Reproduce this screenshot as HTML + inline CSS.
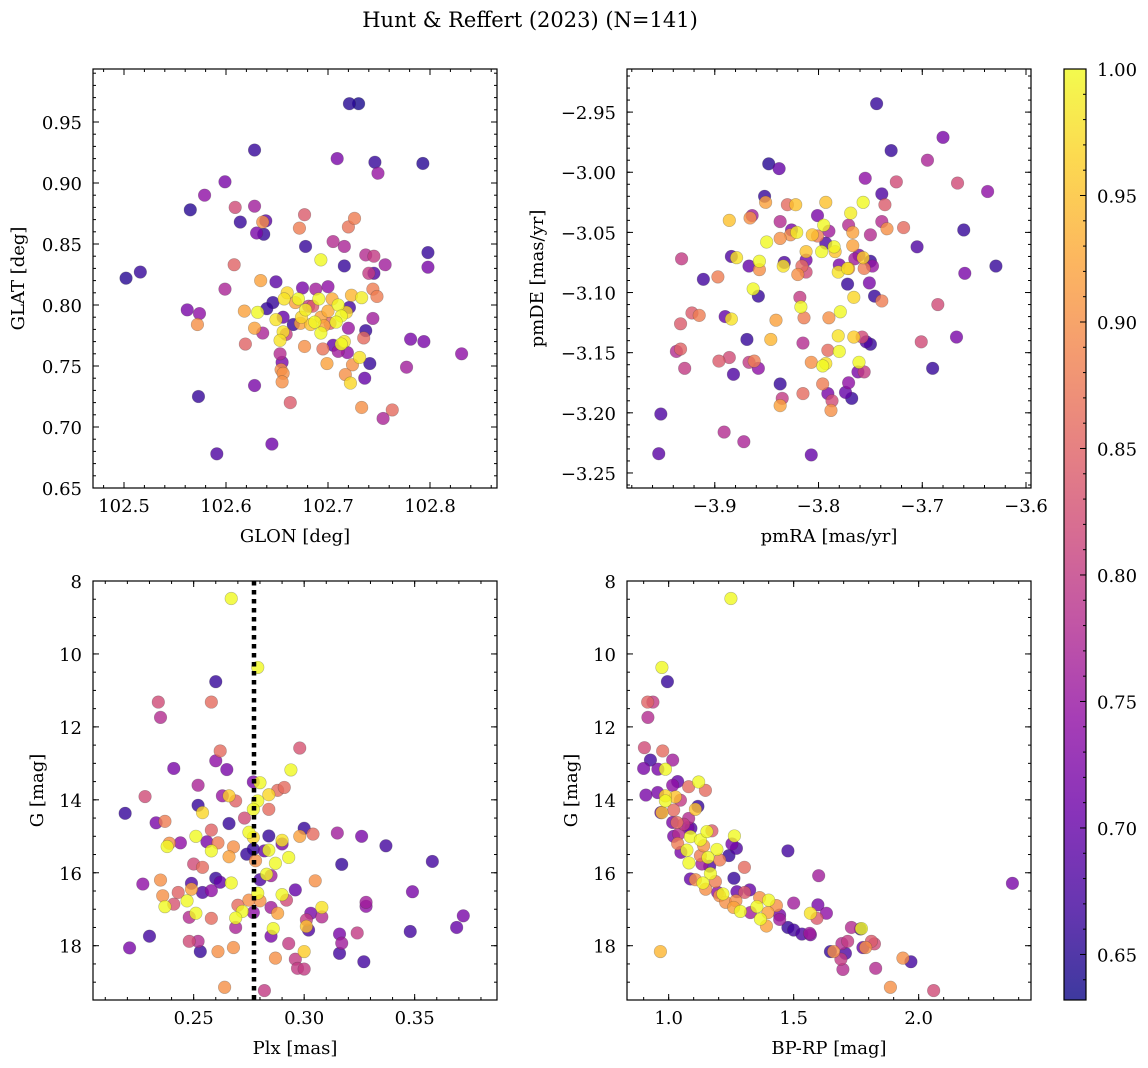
<!DOCTYPE html>
<html><head><meta charset="utf-8"><style>
html,body{margin:0;padding:0;background:#fff;}
svg{display:block;font-family:"DejaVu Serif","Liberation Serif",serif;}
</style></head><body>
<svg id="fig" width="1148" height="1068" viewBox="0 0 1148 1068" xmlns="http://www.w3.org/2000/svg">
<text x="530" y="27" text-anchor="middle" font-size="21">Hunt &amp; Reffert (2023) (N=141)</text>
<g id="g1"></g>
<g id="g2"></g>
<g id="g3"></g>
<g id="g4"></g>
<g id="gcb"></g>
</svg>
<script>
// ---- Panel 1: GLON / GLAT ----
const glon=[102.721,102.730,102.628,102.709,102.746,102.793,102.749,102.599,102.579,102.565,102.609,102.628,102.677,102.726,102.614,102.639,102.636,102.672,102.720,102.630,102.637,102.705,102.716,102.678,102.693,102.737,102.745,102.756,102.798,102.798,102.716,102.608,102.502,102.516,102.745,102.740,102.634,102.649,102.599,102.675,102.688,102.700,102.744,102.748,102.723,102.733,102.660,102.657,102.671,102.691,102.704,102.646,102.668,102.710,102.721,102.685,102.640,102.562,102.574,102.618,102.631,102.678,102.700,102.713,102.718,102.656,102.649,102.674,102.693,102.666,102.673,102.687,102.696,102.708,102.744,102.572,102.628,102.656,102.636,102.659,102.693,102.720,102.737,102.735,102.781,102.794,102.831,102.653,102.716,102.713,102.619,102.677,102.695,102.705,102.710,102.719,102.653,102.655,102.731,102.724,102.699,102.741,102.777,102.654,102.656,102.717,102.736,102.655,102.722,102.628,102.573,102.663,102.733,102.763,102.754,102.645,102.591,102.683,102.702,102.681];
const glat=[0.965,0.965,0.927,0.920,0.917,0.916,0.908,0.901,0.890,0.878,0.880,0.881,0.874,0.871,0.868,0.869,0.868,0.863,0.864,0.859,0.858,0.852,0.848,0.848,0.837,0.841,0.840,0.833,0.843,0.831,0.832,0.833,0.822,0.827,0.826,0.826,0.820,0.819,0.813,0.814,0.813,0.815,0.813,0.807,0.808,0.806,0.810,0.805,0.805,0.805,0.805,0.802,0.802,0.800,0.798,0.799,0.797,0.796,0.793,0.795,0.794,0.796,0.795,0.791,0.794,0.790,0.788,0.790,0.790,0.784,0.785,0.786,0.783,0.786,0.789,0.784,0.781,0.778,0.777,0.776,0.777,0.781,0.779,0.773,0.772,0.770,0.760,0.771,0.770,0.768,0.768,0.766,0.764,0.767,0.762,0.761,0.760,0.753,0.757,0.751,0.752,0.752,0.749,0.747,0.744,0.743,0.740,0.737,0.736,0.734,0.725,0.720,0.716,0.714,0.707,0.686,0.678,0.784,0.785,0.799];
const prob1=[0.65,0.64,0.66,0.72,0.66,0.65,0.75,0.72,0.74,0.65,0.82,0.76,0.84,0.88,0.66,0.69,0.9,0.88,0.87,0.72,0.66,0.78,0.77,0.66,1.0,0.78,0.8,0.76,0.66,0.72,0.66,0.85,0.65,0.66,0.68,0.8,0.92,0.69,0.77,0.72,0.76,0.74,0.88,0.88,0.94,0.99,0.97,0.98,1.0,1.0,0.93,0.66,0.92,1.0,0.67,0.84,0.66,0.72,0.74,0.92,1.0,0.99,0.93,1.0,0.97,0.7,0.98,0.97,0.92,0.66,0.92,1.0,0.92,1.0,0.76,0.9,0.92,0.98,0.77,0.8,1.0,0.75,0.66,0.86,0.72,0.72,0.74,0.98,0.98,1.0,0.85,0.9,0.87,0.7,0.76,0.74,0.78,0.72,0.98,0.9,0.92,0.66,0.76,0.9,0.9,0.9,0.7,0.9,0.97,0.72,0.66,0.84,0.9,0.86,0.77,0.71,0.68,0.95,0.85,0.8];
// ---- Panel 2: pmRA / pmDE ----
const pmra=[-3.744,-3.680,-3.730,-3.695,-3.848,-3.838,-3.755,-3.725,-3.666,-3.637,-3.739,-3.852,-3.851,-3.830,-3.822,-3.793,-3.757,-3.736,-3.886,-3.864,-3.866,-3.837,-3.801,-3.769,-3.795,-3.771,-3.739,-3.734,-3.718,-3.660,-3.826,-3.827,-3.821,-3.806,-3.801,-3.790,-3.767,-3.750,-3.850,-3.837,-3.793,-3.785,-3.784,-3.797,-3.812,-3.767,-3.705,-3.884,-3.879,-3.932,-3.867,-3.857,-3.857,-3.833,-3.834,-3.812,-3.816,-3.812,-3.820,-3.780,-3.781,-3.772,-3.761,-3.765,-3.757,-3.750,-3.748,-3.756,-3.771,-3.659,-3.629,-3.911,-3.897,-3.772,-3.751,-3.863,-3.858,-3.818,-3.766,-3.746,-3.739,-3.685,-3.817,-3.779,-3.922,-3.915,-3.933,-3.890,-3.884,-3.841,-3.814,-3.790,-3.781,-3.766,-3.758,-3.754,-3.750,-3.846,-3.869,-3.815,-3.791,-3.780,-3.701,-3.667,-3.937,-3.933,-3.929,-3.896,-3.886,-3.867,-3.862,-3.858,-3.882,-3.807,-3.796,-3.793,-3.761,-3.762,-3.756,-3.690,-3.837,-3.796,-3.771,-3.815,-3.791,-3.774,-3.768,-3.787,-3.835,-3.837,-3.788,-3.952,-3.891,-3.872,-3.954,-3.807];
const pmde=[-2.943,-2.971,-2.982,-2.990,-2.993,-2.997,-3.005,-3.008,-3.009,-3.016,-3.018,-3.020,-3.025,-3.027,-3.027,-3.025,-3.025,-3.027,-3.040,-3.036,-3.038,-3.041,-3.036,-3.034,-3.044,-3.044,-3.041,-3.047,-3.046,-3.048,-3.048,-3.052,-3.050,-3.052,-3.053,-3.049,-3.050,-3.052,-3.058,-3.055,-3.059,-3.062,-3.066,-3.066,-3.066,-3.061,-3.062,-3.070,-3.071,-3.072,-3.078,-3.081,-3.074,-3.075,-3.078,-3.073,-3.078,-3.083,-3.085,-3.077,-3.083,-3.080,-3.069,-3.072,-3.071,-3.074,-3.078,-3.080,-3.080,-3.084,-3.078,-3.089,-3.087,-3.093,-3.092,-3.097,-3.103,-3.104,-3.104,-3.103,-3.107,-3.110,-3.112,-3.116,-3.117,-3.119,-3.126,-3.120,-3.122,-3.123,-3.121,-3.121,-3.136,-3.137,-3.137,-3.141,-3.143,-3.139,-3.139,-3.142,-3.148,-3.149,-3.141,-3.137,-3.149,-3.147,-3.163,-3.157,-3.154,-3.158,-3.157,-3.163,-3.168,-3.158,-3.161,-3.159,-3.158,-3.166,-3.166,-3.163,-3.176,-3.176,-3.175,-3.184,-3.184,-3.183,-3.188,-3.190,-3.188,-3.194,-3.198,-3.201,-3.216,-3.224,-3.234,-3.235];
const prob2=[0.66,0.72,0.66,0.77,0.65,0.7,0.74,0.82,0.82,0.74,0.68,0.66,0.92,0.86,0.95,0.95,1.0,0.84,0.95,0.76,0.9,0.78,0.72,0.99,1.0,0.78,0.78,0.9,0.86,0.66,0.72,0.9,0.99,0.95,0.88,0.76,0.92,0.78,1.0,0.9,0.68,1.0,0.95,1.0,0.95,0.92,0.68,0.68,0.98,0.8,0.7,0.9,1.0,0.68,0.98,0.72,0.86,0.82,0.9,0.72,0.98,0.98,0.72,0.76,0.96,0.66,0.75,0.88,0.9,0.72,0.66,0.67,0.88,0.66,0.72,1.0,0.66,0.8,0.97,0.66,0.88,0.82,1.0,1.0,0.84,0.88,0.84,0.7,0.98,0.92,0.88,0.9,0.98,0.96,0.82,0.68,0.66,0.94,0.66,0.78,0.86,1.0,0.82,0.72,0.78,0.85,0.8,0.84,0.82,0.8,0.88,0.74,0.68,0.9,1.0,0.98,1.0,0.72,0.8,0.66,0.66,0.88,0.74,0.86,0.72,0.7,0.66,0.82,0.8,0.92,0.9,0.68,0.78,0.77,0.69,0.7];
// ---- Panel 3: Plx / G ----
const plx=[0.267,0.279,0.260,0.234,0.258,0.235,0.262,0.298,0.260,0.241,0.265,0.294,0.252,0.277,0.280,0.288,0.291,0.228,0.263,0.266,0.269,0.279,0.284,0.252,0.254,0.219,0.277,0.284,0.273,0.233,0.237,0.266,0.300,0.304,0.298,0.315,0.326,0.337,0.358,0.317,0.251,0.258,0.275,0.277,0.284,0.290,0.290,0.244,0.239,0.238,0.256,0.261,0.268,0.258,0.266,0.274,0.277,0.282,0.284,0.278,0.293,0.287,0.250,0.254,0.283,0.285,0.280,0.305,0.235,0.227,0.260,0.262,0.267,0.249,0.249,0.254,0.258,0.243,0.236,0.247,0.241,0.237,0.279,0.280,0.275,0.270,0.272,0.277,0.290,0.292,0.296,0.308,0.308,0.303,0.288,0.301,0.301,0.302,0.286,0.285,0.269,0.269,0.258,0.251,0.248,0.230,0.221,0.248,0.252,0.253,0.261,0.268,0.293,0.300,0.287,0.296,0.297,0.300,0.316,0.317,0.324,0.316,0.327,0.328,0.328,0.349,0.348,0.369,0.372,0.264,0.282,0.285];
const gmag3=[8.48,10.37,10.76,11.32,11.32,11.74,12.66,12.58,12.93,13.14,13.17,13.18,13.60,13.51,13.53,13.74,13.66,13.91,13.89,13.89,14.03,14.03,13.86,14.15,14.35,14.37,14.26,14.26,14.50,14.63,14.59,14.65,14.78,14.94,15.00,14.91,15.00,15.26,15.69,15.77,15.00,14.83,14.89,15.03,14.99,15.11,15.21,15.18,15.19,15.28,15.15,15.18,15.29,15.40,15.56,15.49,15.35,15.40,15.38,15.67,15.58,15.74,15.76,15.85,16.04,16.08,16.19,16.22,16.20,16.31,16.15,16.26,16.28,16.29,16.45,16.54,16.49,16.54,16.63,16.77,16.86,16.93,16.56,16.77,16.75,16.89,17.06,17.09,16.60,16.75,16.47,16.95,17.21,17.11,17.11,17.29,17.47,17.57,17.53,17.74,17.24,17.50,17.25,17.11,17.22,17.74,18.06,17.88,17.88,18.16,18.16,18.05,17.94,18.16,18.34,18.37,18.62,18.64,17.68,17.93,17.65,18.21,18.44,16.81,16.92,16.52,17.61,17.50,17.18,19.14,19.23,16.95];
const prob3=[1.0,1.0,0.66,0.82,0.86,0.78,0.86,0.83,0.74,0.72,0.72,1.0,0.77,0.72,1.0,0.86,0.86,0.82,0.75,0.96,0.85,1.0,0.97,0.66,0.97,0.66,1.0,0.86,0.82,0.72,0.88,0.66,0.66,0.86,0.92,0.76,0.72,0.67,0.67,0.66,1.0,0.85,1.0,0.97,0.66,0.98,0.72,0.74,0.9,1.0,0.72,0.88,0.9,1.0,0.92,0.66,0.66,0.7,1.0,0.9,1.0,1.0,0.82,0.86,1.0,0.76,0.68,0.9,0.9,0.74,0.66,0.7,1.0,0.68,0.92,0.68,0.74,0.85,0.9,1.0,0.83,1.0,1.0,0.9,0.9,0.86,1.0,0.74,1.0,0.82,0.7,0.98,0.78,0.72,0.92,0.8,0.95,0.68,1.0,0.72,1.0,0.77,0.86,1.0,0.78,0.67,0.72,0.82,0.78,0.66,0.9,0.9,0.8,0.96,0.9,0.8,0.8,0.8,0.72,0.76,0.8,0.67,0.67,0.76,0.74,0.72,0.67,0.7,0.72,0.9,0.8,0.76];
const plxLine=0.2773;
// ---- Panel 4: BP-RP / G ----
const bprp=[1.249,0.973,0.995,0.916,0.937,0.917,0.903,0.976,0.927,1.016,0.900,0.957,0.987,1.036,1.016,1.080,1.120,1.147,0.909,0.956,0.987,1.027,1.047,0.987,1.117,1.107,0.969,0.973,1.020,1.080,1.016,1.033,1.089,1.020,1.040,1.087,1.127,1.153,1.173,1.263,1.253,1.271,1.036,1.049,1.073,1.140,1.193,1.241,1.127,1.157,1.081,1.133,1.164,1.204,1.303,1.477,1.600,2.375,1.087,1.107,1.167,1.261,1.137,1.148,1.187,1.196,1.217,1.204,1.273,1.324,1.304,1.228,1.269,1.260,1.287,1.327,1.364,1.400,1.353,1.431,1.397,1.367,1.391,1.444,1.444,1.500,1.477,1.500,1.533,1.567,1.564,1.597,1.631,1.567,1.593,1.731,1.767,1.771,1.647,1.660,1.707,1.693,1.716,1.689,1.697,1.777,1.788,1.811,1.823,1.828,1.937,1.969,1.887,2.060,0.967,1.060,1.077];
const gmag4=[8.48,10.37,10.76,11.32,11.32,11.74,12.57,12.66,12.91,12.91,13.14,13.16,13.16,13.50,13.60,13.64,13.51,13.74,13.87,13.80,13.89,13.92,14.01,14.03,14.18,14.26,14.35,14.35,14.28,14.51,14.62,14.62,14.78,15.00,14.94,15.01,15.10,14.87,14.85,14.99,15.21,15.33,15.20,15.44,15.38,15.26,15.36,15.53,15.53,15.58,15.73,15.76,15.82,15.65,15.85,15.40,16.08,16.29,16.17,16.19,16.02,16.15,16.28,16.45,16.24,16.54,16.58,16.63,16.52,16.47,16.54,16.81,16.77,16.95,17.06,17.09,16.68,16.75,16.93,16.90,17.09,17.27,17.46,17.16,17.28,16.83,17.50,17.57,17.68,17.70,17.66,16.88,17.11,17.11,17.25,17.50,17.54,17.53,18.16,18.16,18.21,17.94,17.88,18.37,18.65,18.05,18.05,17.88,17.95,18.62,18.34,18.44,19.14,19.23,18.16,14.67,14.76];
const prob4=[1.0,1.0,0.66,0.85,0.8,0.78,0.82,0.86,0.67,0.76,0.72,0.72,1.0,0.7,0.74,0.86,1.0,0.86,0.72,0.72,0.97,0.95,0.8,1.0,0.66,0.95,0.7,0.95,0.86,0.78,0.72,0.86,0.68,0.72,0.78,1.0,1.0,1.0,0.84,1.0,0.72,0.68,0.88,0.72,1.0,0.9,1.0,0.66,0.88,1.0,1.0,0.76,0.68,0.88,0.86,0.67,0.76,0.72,0.7,0.9,1.0,0.66,1.0,0.9,0.88,0.74,1.0,0.9,0.7,0.7,0.84,0.9,0.9,0.92,1.0,0.76,0.9,1.0,1.0,0.9,0.92,1.0,0.92,0.72,0.76,0.76,0.66,0.67,0.68,0.72,0.76,0.72,0.74,0.98,0.84,0.78,0.66,1.0,0.66,0.9,0.68,0.78,0.8,0.8,0.78,0.7,0.9,0.84,0.82,0.78,0.9,0.67,0.9,0.82,0.94,0.8,0.72];
// ---- Colorbar ticks ----
const cbTicks=[0.65,0.70,0.75,0.80,0.85,0.90,0.95,1.00];
const cbMin=0.632, cbMax=1.0;

const NS="http://www.w3.org/2000/svg";
const FS=18;
const plasma=[[13,8,135],[65,4,157],[106,0,168],[143,13,164],[177,42,144],[204,71,120],[225,100,98],[242,132,75],[252,166,54],[252,206,37],[240,249,33]];
function cmap(v){let t=(v-cbMin)/(cbMax-cbMin);t=Math.max(0,Math.min(1,t))*10;const i=Math.min(9,Math.floor(t)),f=t-i;const a=plasma[i],b=plasma[i+1];return `rgb(${Math.round(a[0]+(b[0]-a[0])*f)},${Math.round(a[1]+(b[1]-a[1])*f)},${Math.round(a[2]+(b[2]-a[2])*f)})`;}
function mk(parent,tag,attrs){const e=document.createElementNS(NS,tag);for(const k in attrs)e.setAttribute(k,attrs[k]);parent.appendChild(e);return e;}
function range(a,b,s){const r=[];for(let v=a;v<=b+s*1e-6;v+=s)r.push(+v.toFixed(6));return r;}

function panel(g,o){
  const sx=v=>o.x0+(v-o.xmin)/(o.xmax-o.xmin)*o.w;
  const sy=v=>o.y0+(o.ytop-v)/(o.ytop-o.ybot)*o.h;
  const idx=o.xs.map((_,i)=>i).sort((a,b)=>o.ps[a]-o.ps[b]);
  const pg=mk(g,'g',{});
  
  
  idx.forEach(i=>{
    const c=mk(pg,'circle',{cx:sx(o.xs[i]),cy:sy(o.ys[i]),r:6.3,fill:cmap(o.ps[i]),'fill-opacity':0.8,stroke:'rgba(60,60,60,0.35)','stroke-width':0.6});
    
    
  });
  if(o.vline!==undefined){
    const l=mk(g,'line',{x1:sx(o.vline),x2:sx(o.vline),y1:o.y0,y2:o.y0+o.h,stroke:'#000','stroke-width':4.5,'stroke-dasharray':'4.5 4.5'});
    
    
  }
  const fr=mk(g,'rect',{x:o.x0,y:o.y0,width:o.w,height:o.h,fill:'none',stroke:'#000','stroke-width':1.2});
  
  
  const tg=mk(g,'g',{stroke:'#000','stroke-width':1});
  const inX=v=>v>=Math.min(o.xmin,o.xmax)-1e-9&&v<=Math.max(o.xmin,o.xmax)+1e-9;
  const inY=v=>v>=Math.min(o.ytop,o.ybot)-1e-9&&v<=Math.max(o.ytop,o.ybot)+1e-9;
  o.xminor.filter(inX).forEach(v=>{const x=sx(v);mk(tg,'line',{x1:x,x2:x,y1:o.y0+o.h,y2:o.y0+o.h-3});mk(tg,'line',{x1:x,x2:x,y1:o.y0,y2:o.y0+3});});
  o.yminor.filter(inY).forEach(v=>{const y=sy(v);mk(tg,'line',{x1:o.x0,x2:o.x0+3,y1:y,y2:y});mk(tg,'line',{x1:o.x0+o.w,x2:o.x0+o.w-3,y1:y,y2:y});});
  o.xticks.forEach((v,k)=>{const x=sx(v);mk(tg,'line',{x1:x,x2:x,y1:o.y0+o.h,y2:o.y0+o.h-6});mk(tg,'line',{x1:x,x2:x,y1:o.y0,y2:o.y0+6});
    const t=mk(g,'text',{x:x,y:o.y0+o.h+24,'text-anchor':'middle','font-size':FS});t.textContent=o.xlabels[k];
    });
  o.yticks.forEach((v,k)=>{const y=sy(v);mk(tg,'line',{x1:o.x0,x2:o.x0+6,y1:y,y2:y});mk(tg,'line',{x1:o.x0+o.w,x2:o.x0+o.w-6,y1:y,y2:y});
    const t=mk(g,'text',{x:o.x0-11,y:y+7,'text-anchor':'end','font-size':FS});t.textContent=o.ylabels[k];
    });
  const xt=mk(g,'text',{x:o.x0+o.w/2,y:o.y0+o.h+54,'text-anchor':'middle','font-size':FS});xt.textContent=o.xtitle;
  
  const yx=o.ytitleX, yc=o.y0+o.h/2;
  const yt=mk(g,'text',{x:yx,y:yc,'text-anchor':'middle','font-size':FS,transform:`rotate(-90 ${yx} ${yc})`});yt.textContent=o.ytitle;
  
}
const m=s=>s.replace('-','\u2212');
panel(document.getElementById('g1'),{x0:93,y0:69,w:404,h:419,xmin:102.5-31/1020,xmax:102.5+373/1020,ytop:0.95+53/1220,ybot:0.65,
  xs:glon,ys:glat,ps:prob1,xticks:[102.5,102.6,102.7,102.8],xlabels:['102.5','102.6','102.7','102.8'],
  yticks:[0.65,0.7,0.75,0.8,0.85,0.9,0.95],ylabels:['0.65','0.70','0.75','0.80','0.85','0.90','0.95'],
  xminor:range(102.46,102.88,0.02),yminor:range(0.65,0.99,0.01),xtitle:'GLON [deg]',ytitle:'GLAT [deg]',ytitleX:24});
panel(document.getElementById('g2'),{x0:627,y0:69,w:404,h:419,xmin:-3.9-88/1040,xmax:-3.6+5/1040,ytop:-2.95+43/1200,ybot:-3.25-15/1200,
  xs:pmra,ys:pmde,ps:prob2,xticks:[-3.9,-3.8,-3.7,-3.6],xlabels:['-3.9','-3.8','-3.7','-3.6'].map(m),
  yticks:[-3.25,-3.2,-3.15,-3.1,-3.05,-3.0,-2.95],ylabels:['-3.25','-3.20','-3.15','-3.10','-3.05','-3.00','-2.95'].map(m),
  xminor:range(-3.98,-3.6,0.02),yminor:range(-3.26,-2.92,0.01),xtitle:'pmRA [mas/yr]',ytitle:'pmDE [mas/yr]',ytitleX:543});
panel(document.getElementById('g3'),{x0:93,y0:581,w:404,h:419,xmin:0.25-302/6630,xmax:0.25+910/6630,ytop:8,ybot:8+1258/109.5,
  xs:plx,ys:gmag3,ps:prob3,vline:plxLine,xticks:[0.25,0.3,0.35],xlabels:['0.25','0.30','0.35'],
  yticks:[8,10,12,14,16,18],ylabels:['8','10','12','14','16','18'],
  xminor:range(0.21,0.38,0.01),yminor:range(8,19.5,0.5),xtitle:'Plx [mas]',ytitle:'G [mag]',ytitleX:43});
panel(document.getElementById('g4'),{x0:627,y0:581,w:404,h:419,xmin:1.0-125/750,xmax:1.0+1087/750,ytop:8,ybot:8+1258/109.5,
  xs:bprp,ys:gmag4,ps:prob4,xticks:[1.0,1.5,2.0],xlabels:['1.0','1.5','2.0'],
  yticks:[8,10,12,14,16,18],ylabels:['8','10','12','14','16','18'],
  xminor:range(0.9,2.4,0.1),yminor:range(8,19.5,0.5),xtitle:'BP-RP [mag]',ytitle:'G [mag]',ytitleX:577});

(function(){
  const g=document.getElementById('gcb');
  const x0=1064,y0=69,w=22,h=931;
  const defs=mk(g,'defs',{});
  const lg=mk(defs,'linearGradient',{id:'cbg',x1:0,y1:1,x2:0,y2:0});
  plasma.forEach((c,i)=>mk(lg,'stop',{offset:i/10,'stop-color':`rgb(${c[0]},${c[1]},${c[2]})`}));
  const r=mk(g,'rect',{x:x0,y:y0,width:w,height:h,fill:'url(#cbg)','fill-opacity':0.8});
  
  mk(g,'rect',{x:x0,y:y0,width:w,height:h,fill:'none',stroke:'#000','stroke-width':1.2});
  const sy=v=>y0+(cbMax-v)/(cbMax-cbMin)*h;
  range(0.64,1.0,0.01).forEach(v=>{const y=sy(v);mk(g,'line',{x1:x0+w,x2:x0+w-3,y1:y,y2:y,stroke:'#000'});});
  cbTicks.forEach(v=>{const y=sy(v);mk(g,'line',{x1:x0+w,x2:x0+w-6,y1:y,y2:y,stroke:'#000'});
    const t=mk(g,'text',{x:x0+w+11,y:y+7,'font-size':FS});t.textContent=v.toFixed(2);
    });
})();
</script>
</body></html>
